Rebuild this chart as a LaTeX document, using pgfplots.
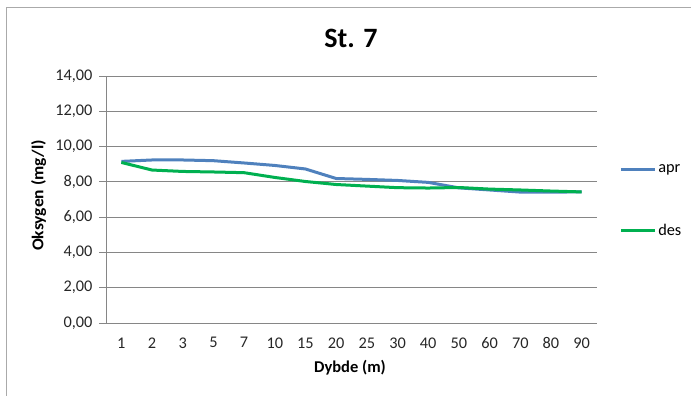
\documentclass[border=0pt]{standalone}
\usepackage{pgfplots}
\pgfplotsset{compat=1.18}
\usepackage{fontspec}
\setmainfont{Carlito}
\definecolor{aprblue}{RGB}{79,129,189}
\definecolor{desgreen}{RGB}{0,176,80}
\definecolor{gridgray}{RGB}{134,134,134}
\begin{document}
\begin{tikzpicture}[x=1pt,y=1pt]
\useasboundingbox (0,0) rectangle (691,-396);
\draw[gridgray!70,line width=1pt] (6.5,-420) -- (6.5,-7.5) -- (720,-7.5);
\begin{axis}[
  at={(106pt,-323pt)}, anchor=south west,
  scale only axis, width=491pt, height=247pt,
  xmin=-0.5, xmax=15.5, ymin=0, ymax=14,
  axis x line*=bottom, axis y line*=left,
  axis line style={gridgray, line width=0.8pt},
  xtick={0,...,15},
  xticklabels={1,2,3,5,7,10,15,20,25,30,40,50,60,70,80,90},
  x tick style={draw=none},
  extra x ticks={-0.5,0.5,...,15.5},
  extra x tick labels={},
  extra x tick style={tick style={draw=gridgray, line width=0.8pt}, major tick length=7pt, tick align=outside},
  ytick={0,2,...,14},
  y tick style={draw=gridgray, line width=0.8pt},
  major tick length=7pt, tick align=outside,
  ymajorgrids, grid style={gridgray, line width=0.8pt},
  yticklabel style={/pgf/number format/fixed, /pgf/number format/fixed zerofill, /pgf/number format/precision=2, /pgf/number format/use comma, /pgf/number format/assume math mode=true, xshift=-3pt},
  ticklabel style={font=\fontsize{16.3}{19}\selectfont, text=black!85},
  xticklabel style={yshift=-4pt},
  legend style={at={(1.045,0.651)}, anchor=north west, draw=none, fill=none,
    font=\fontsize{16.3}{19}\selectfont, row sep=46pt, inner sep=0pt},
  legend cell align=left,
  legend image code/.code={\draw[#1] (0pt,0pt) -- (34pt,0pt);},
]
\addplot[aprblue, line width=3pt] coordinates {
(0,9.16) (1,9.24) (2,9.24) (3,9.20) (4,9.07) (5,8.93) (6,8.73) (7,8.19)
(8,8.14) (9,8.08) (10,7.97) (11,7.66) (12,7.54) (13,7.42) (14,7.42) (15,7.43)};
\addlegendentry{apr}
\addplot[desgreen, line width=3pt] coordinates {
(0,9.10) (1,8.67) (2,8.59) (3,8.56) (4,8.52) (5,8.25) (6,8.02) (7,7.85)
(8,7.76) (9,7.67) (10,7.65) (11,7.68) (12,7.59) (13,7.54) (14,7.48) (15,7.43)};
\addlegendentry{des}
\end{axis}
\node[font=\fontsize{28}{32}\selectfont\bfseries, anchor=base, inner sep=0pt] at (351,-47.3) {St. 7};
\node[font=\fontsize{16.5}{19}\selectfont\bfseries, anchor=base, inner sep=0pt] at (350,-372.3) {Dybde (m)};
\node[font=\fontsize{16.5}{19}\selectfont\bfseries, rotate=90, anchor=base, inner sep=0pt] at (43.4,-195.5) {\scalebox{1.06}[1]{Oksygen (mg/l)}};
\end{tikzpicture}
\end{document}
